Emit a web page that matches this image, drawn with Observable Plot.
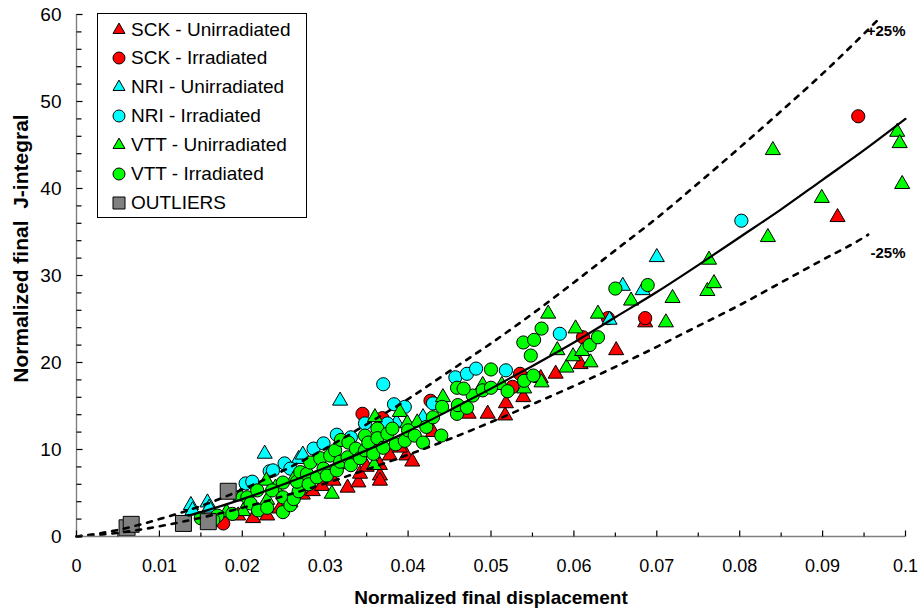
<!DOCTYPE html>
<html><head><meta charset="utf-8">
<script src="https://cdn.jsdelivr.net/npm/d3@7"></script>
<script src="https://cdn.jsdelivr.net/npm/@observablehq/plot@0.6"></script>
<style>
body{margin:0;background:#fff;}
#wrap{position:relative;width:924px;height:612px;font-family:"Liberation Sans",Arial,sans-serif;}
#legend{position:absolute;left:97px;top:13px;width:210px;height:205px;border:1px solid #000;background:#fff;box-sizing:border-box;}
#legend .sym{position:absolute;left:9px;width:24px;height:24px;}
#legend .lab{position:absolute;left:33px;font-size:19px;line-height:24px;color:#000;white-space:nowrap;}
</style></head><body><div id="wrap"></div>
<script>
// ---------- data (normalized displacement, normalized J) ----------
const sckUnirr = [[0.0195,2.4],[0.0213,2.1],[0.0230,2.4],[0.0245,3.2],[0.0258,3.9],[0.0273,4.8],[0.0285,5.2],[0.0296,5.8],[0.0310,6.4],[0.0327,5.6],[0.0340,6.2],[0.0342,7.2],[0.0350,8.0],[0.0366,7.0],[0.0366,8.2],[0.0366,6.4],[0.0378,9.3],[0.0398,9.3],[0.0405,8.6],[0.0390,10.2],[0.0430,12.0],[0.0473,14.1],[0.0496,14.1],[0.0517,13.9],[0.0518,15.3],[0.0539,16.0],[0.0560,18.2],[0.0578,18.7],[0.0608,19.8],[0.0651,21.4],[0.0686,24.6],[0.0918,36.7]];
const sckIrr = [[0.0177,1.5],[0.0345,14.1],[0.0369,13.6],[0.0427,15.6],[0.0526,17.2],[0.0535,18.7],[0.0611,22.9],[0.0641,25.1],[0.0686,25.1],[0.0943,48.3]];
const nriUnirr = [[0.0138,3.6],[0.0140,3.0],[0.0158,3.9],[0.0160,3.3],[0.0227,9.5],[0.0268,8.9],[0.0273,9.4],[0.0318,15.6],[0.0386,13.1],[0.0418,13.7],[0.0643,24.9],[0.0659,28.8],[0.0683,28.3],[0.0700,32.1]];
const nriIrr = [[0.0204,6.1],[0.0212,6.3],[0.0233,7.5],[0.0237,7.6],[0.0251,8.4],[0.0258,7.8],[0.0286,10.1],[0.0298,10.7],[0.0314,11.7],[0.0331,11.4],[0.0348,13.0],[0.0370,17.5],[0.0375,13.0],[0.0383,15.2],[0.0396,14.9],[0.0430,15.3],[0.0457,18.3],[0.0471,18.7],[0.0482,19.3],[0.0518,19.1],[0.0583,23.3],[0.0802,36.3]];
const vttUnirr = [[0.0181,2.8],[0.0201,2.9],[0.0198,4.6],[0.0229,6.4],[0.0230,4.2],[0.0240,5.6],[0.0262,6.6],[0.0308,4.9],[0.0322,8.3],[0.0359,8.2],[0.0360,13.7],[0.0390,14.3],[0.0399,13.0],[0.0411,13.1],[0.0442,16.0],[0.0490,17.4],[0.0513,17.4],[0.0540,17.0],[0.0561,17.7],[0.0569,25.6],[0.0580,21.4],[0.0591,19.4],[0.0599,20.7],[0.0602,23.9],[0.0610,21.3],[0.0620,20.0],[0.0629,25.6],[0.0669,27.1],[0.0711,24.6],[0.0719,27.4],[0.0761,28.2],[0.0763,31.8],[0.0769,29.1],[0.0834,34.4],[0.0840,44.4],[0.0899,38.9],[0.0990,46.5],[0.0993,45.2],[0.0996,40.5]];
const vttIrr = [[0.0150,2.1],[0.0170,2.4],[0.0165,1.9],[0.0188,2.6],[0.0206,4.5],[0.0210,3.8],[0.0219,3.0],[0.0218,5.3],[0.0230,3.3],[0.0236,5.3],[0.0249,2.8],[0.0249,4.5],[0.0249,6.2],[0.0258,3.6],[0.0262,4.3],[0.0268,5.2],[0.0266,6.3],[0.0270,7.4],[0.0278,7.2],[0.0280,6.0],[0.0282,8.5],[0.0290,6.8],[0.0294,9.0],[0.0298,7.8],[0.0302,7.0],[0.0306,9.3],[0.0312,9.9],[0.0314,7.6],[0.0318,8.6],[0.0319,11.1],[0.0327,9.1],[0.0328,10.8],[0.0331,8.2],[0.0337,10.1],[0.0342,9.0],[0.0348,9.9],[0.0348,11.6],[0.0352,10.8],[0.0358,9.5],[0.0363,12.4],[0.0363,11.3],[0.0370,10.2],[0.0375,11.8],[0.0381,12.4],[0.0385,10.6],[0.0396,11.0],[0.0400,12.2],[0.0408,11.6],[0.0418,10.8],[0.0422,12.6],[0.0430,13.7],[0.0440,11.6],[0.0441,14.9],[0.0459,14.1],[0.0460,15.1],[0.0471,14.8],[0.0478,16.2],[0.0459,17.1],[0.0467,17.0],[0.0490,16.8],[0.0500,17.1],[0.0500,19.2],[0.0520,16.7],[0.0540,17.9],[0.0551,18.5],[0.0548,20.8],[0.0539,22.3],[0.0552,22.6],[0.0561,23.9],[0.0619,22.0],[0.0629,22.9],[0.0650,28.5],[0.0689,28.9]];
const outliers = [[0.0061,1.0],[0.0066,1.4],[0.0129,1.5],[0.0159,1.7],[0.0183,5.2]];

// fitted curve and +/-25% bounds
const fitD = [0.0135,0.015,0.02,0.025,0.03,0.035,0.04,0.045,0.05,0.055,0.06,0.065,0.07,0.075,0.08,0.085,0.09,0.095,0.1];
const fitJ = [2.4,2.8,4.3,6.0,7.9,9.9,12.1,14.5,17.0,19.6,22.3,25.2,28.1,31.2,34.4,37.6,41.0,44.4,48.0];
const upperD = [0,0.005,0.01,0.015,0.02,0.025,0.03,0.035,0.04,0.045,0.05,0.055,0.06,0.065,0.07,0.075,0.08,0.085,0.09,0.095,0.097];
const upperJ = [0,0.75,2.0,3.5,5.4,7.6,10.1,12.9,15.8,19.0,22.2,25.6,29.2,32.9,36.6,40.6,44.7,48.9,53.2,57.8,59.7];
const lowerD = [0,0.005,0.01,0.015,0.02,0.025,0.03,0.035,0.04,0.045,0.05,0.055,0.06,0.065,0.07,0.075,0.08,0.085,0.09,0.095,0.0955];
const lowerJ = [0,0.42,1.17,2.16,3.3,4.65,6.1,7.7,9.4,11.2,13.15,15.2,17.3,19.5,21.8,24.2,26.6,29.2,31.8,34.4,34.7];

// axes
const xTicks = [0,0.01,0.02,0.03,0.04,0.05,0.06,0.07,0.08,0.09,0.1];
const xTickLabels = ["0","0.01","0.02","0.03","0.04","0.05","0.06","0.07","0.08","0.09","0.1"];
const xMinor = [0.005,0.015,0.025,0.035,0.045,0.055,0.065,0.075,0.085,0.095];
const yTicks = [0,10,20,30,40,50,60];
const yTickLabels = ["0","10","20","30","40","50","60"];
const yMinor = [2,4,6,8,12,14,16,18,22,24,26,28,32,34,36,38,42,44,46,48,52,54,56,58];

const seriesNames = ["SCK - Unirradiated","SCK - Irradiated","NRI - Unirradiated","NRI - Irradiated","VTT - Unirradiated","VTT - Irradiated","OUTLIERS"];
const seriesColors = ["#ff0000","#ff0000","#00ffff","#00ffff","#00ff00","#00ff00","#808080"];
const seriesShapes = ["triangle","circle","triangle","circle","triangle","circle","square"];
const seriesData = [sckUnirr, sckIrr, nriUnirr, nriIrr, vttUnirr, vttIrr, outliers];

const FONT = '"Liberation Sans", Arial, sans-serif';
const toPts = arr => arr.map(([d, j]) => ({d, j}));
const toLine = (D, J) => D.map((d, i) => ({d, j: J[i]}));
const tickUp = len => ({draw(ctx){ ctx.moveTo(0, 0); ctx.lineTo(0, -len); }});
const tickRight = len => ({draw(ctx){ ctx.moveTo(0, 0); ctx.lineTo(len, 0); }});
const rOf = s => s === "triangle" ? 5.6 : s === "square" ? 9.0 : 6.6;

const dotMarks = seriesData.map((arr, i) => Plot.dot(toPts(arr), {
  x: "d", y: "j", symbol: seriesShapes[i], r: rOf(seriesShapes[i]),
  fill: seriesColors[i], stroke: "#000", strokeWidth: 1
}));

const chart = Plot.plot({
  width: 924, height: 612,
  marginLeft: 76, marginRight: 19, marginTop: 14, marginBottom: 76,
  x: {domain: [0, 0.1], axis: null},
  y: {domain: [0, 60], axis: null},
  style: {fontFamily: FONT, fontSize: "18px", background: "#fff", color: "#000", overflow: "visible"},
  marks: [
    ...dotMarks,
    Plot.line(toLine(upperD, upperJ), {x: "d", y: "j", stroke: "#000", strokeWidth: 2.6, strokeDasharray: "5,7", curve: "monotone-x"}),
    Plot.line(toLine(lowerD, lowerJ), {x: "d", y: "j", stroke: "#000", strokeWidth: 2.6, strokeDasharray: "5,7", curve: "monotone-x"}),
    Plot.line(toLine(fitD, fitJ), {x: "d", y: "j", stroke: "#000", strokeWidth: 2.2, curve: "monotone-x"}),
    // axis lines
    Plot.ruleY([0], {stroke: "#808080", strokeWidth: 1.4}),
    Plot.ruleX([0], {stroke: "#808080", strokeWidth: 1.4}),
    // ticks (pointing inside)
    Plot.dot(xTicks, {x: d => d, frameAnchor: "bottom", symbol: tickUp(6), r: 1, fill: "none", stroke: "#000", strokeWidth: 1.2}),
    Plot.dot(xMinor, {x: d => d, frameAnchor: "bottom", symbol: tickUp(4), r: 1, fill: "none", stroke: "#000", strokeWidth: 1.2}),
    Plot.dot(yTicks, {y: d => d, frameAnchor: "left", symbol: tickRight(6), r: 1, fill: "none", stroke: "#000", strokeWidth: 1.2}),
    Plot.dot(yMinor, {y: d => d, frameAnchor: "left", symbol: tickRight(5), r: 1, fill: "none", stroke: "#000", strokeWidth: 1.2}),
    // tick labels
    Plot.text(xTicks, {x: d => d, frameAnchor: "bottom", lineAnchor: "middle", textAnchor: "middle", dy: 30, text: (d, i) => xTickLabels[i], fontSize: 18, fill: "#000"}),
    Plot.text(yTicks, {y: d => d, frameAnchor: "left", lineAnchor: "middle", dx: -15, textAnchor: "end", text: (d, i) => yTickLabels[i], fontSize: 19, fill: "#000"}),
    // axis titles
    Plot.text(["Normalized final displacement"], {frameAnchor: "bottom", lineAnchor: "middle", textAnchor: "middle", dy: 61, text: d => d, fontSize: 19, fontWeight: "bold", fill: "#000"}),
    Plot.text(["Normalized final  J-integral"], {frameAnchor: "left", lineAnchor: "middle", textAnchor: "middle", dx: -55, dy: -27, rotate: -90, text: d => d, fontSize: 21, fontWeight: "bold", fill: "#000"}),
    // band labels
    Plot.text(["+25%"], {frameAnchor: "top-right", lineAnchor: "middle", textAnchor: "end", dy: 17, text: d => d, fontSize: 15, fontWeight: "bold", fill: "#000"}),
    Plot.text(["-25%"], {frameAnchor: "top-right", lineAnchor: "middle", textAnchor: "end", dy: 239, text: d => d, fontSize: 15, fontWeight: "bold", fill: "#000"})
  ]
});

const wrap = document.getElementById("wrap");
wrap.appendChild(chart);

// legend overlay (inside plot area, as in the original)
const legend = document.createElement("div");
legend.id = "legend";
const rowCenters = [17, 45, 74, 103, 132, 161, 190];
seriesNames.forEach((name, i) => {
  const c = rowCenters[i] - 1;
  const sym = d3.create("svg").attr("class", "sym").attr("width", 24).attr("height", 24)
    .style("top", (c - 12) + "px");
  const shape = seriesShapes[i];
  let path;
  if (shape === "triangle") path = d3.symbol(d3.symbolTriangle, 62)();
  else if (shape === "circle") path = d3.symbol(d3.symbolCircle, 113)();
  else path = d3.symbol(d3.symbolSquare, 144)();
  sym.append("path").attr("transform", "translate(12,12)").attr("d", path)
    .attr("fill", seriesColors[i]).attr("stroke", "#000").attr("stroke-width", 1);
  legend.appendChild(sym.node());
  const lab = document.createElement("div");
  lab.className = "lab";
  lab.style.top = (c - 12) + "px";
  lab.textContent = name;
  legend.appendChild(lab);
});
wrap.appendChild(legend);
</script>
</body></html>
